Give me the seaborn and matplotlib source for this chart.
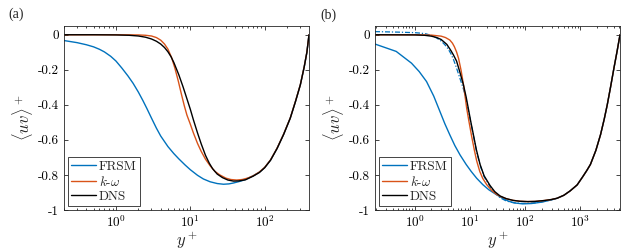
import numpy as np
import pandas as pd
import matplotlib
matplotlib.use("Agg")
import matplotlib.pyplot as plt
import matplotlib.ticker as mticker
import seaborn as sns

# ---------------- data ----------------
# Panel (a), Re_tau ~ 395
a_fr_y = [0.2, 0.3, 0.4, 0.5, 0.6, 0.7, 0.85, 1.0, 1.2, 1.45, 1.7, 2.0, 2.3, 2.6, 3.0, 3.5, 4.0, 5.0,
          6.0, 7.0, 8.5, 10, 12.5, 15, 18.5, 23, 28, 33, 38, 45, 52, 60, 70, 85, 100, 120, 147, 180,
          221, 260, 302, 340, 370, 395]
a_fr_v = [-0.033, -0.045, -0.057, -0.069, -0.083, -0.098, -0.123, -0.15, -0.19, -0.235, -0.277,
          -0.327, -0.375, -0.42, -0.475, -0.533, -0.578, -0.638, -0.678, -0.708, -0.743, -0.77,
          -0.802, -0.823, -0.839, -0.849, -0.853, -0.851, -0.846, -0.838, -0.83, -0.818, -0.805,
          -0.784, -0.758, -0.715, -0.648, -0.568, -0.476, -0.38, -0.286, -0.185, -0.1, 0.0]
a_kw_y = [0.2, 1.0, 2.0, 2.5, 3.0, 3.5, 4.0, 4.5, 5.0, 5.6, 6.2, 6.9, 7.6, 8.3, 9.0, 10, 11, 12.5,
          14, 16, 18.5, 21.5, 25, 30, 35, 42, 50, 60, 70, 85, 100, 120, 147, 180, 221, 260, 302,
          340, 370, 395]
a_kw_v = [0.0, 0.0, -0.001, -0.003, -0.007, -0.016, -0.031, -0.053, -0.082, -0.13, -0.19, -0.265,
          -0.34, -0.405, -0.458, -0.51, -0.56, -0.62, -0.665, -0.71, -0.748, -0.78, -0.80, -0.818,
          -0.826, -0.829, -0.826, -0.817, -0.805, -0.783, -0.757, -0.714, -0.647, -0.567, -0.475,
          -0.379, -0.285, -0.184, -0.099, 0.0]
a_dns_y = [0.2, 0.5, 1.0, 1.5, 2.0, 2.5, 3.0, 3.5, 4.0, 4.5, 5.0, 5.5, 6.0, 7.0, 8.0, 9.0, 10, 11,
           12.5, 14, 16, 18, 20, 23, 27, 32, 38, 45, 55, 70, 85, 100, 120, 147, 180, 221, 260,
           302, 340, 370, 395]
a_dns_v = [0.0, 0.0, -0.001, -0.003, -0.007, -0.014, -0.024, -0.037, -0.053, -0.073, -0.097,
           -0.125, -0.158, -0.228, -0.298, -0.365, -0.425, -0.485, -0.56, -0.622, -0.688, -0.733,
           -0.765, -0.795, -0.815, -0.829, -0.835, -0.834, -0.828, -0.807, -0.786, -0.759,
           -0.716, -0.649, -0.569, -0.476, -0.381, -0.286, -0.185, -0.1, 0.0]

# Panel (b), Re_tau ~ 5200
b_fr_y = [0.19, 0.46, 0.87, 1.2, 1.63, 2.2, 2.85, 3.5, 4.3, 5.3, 6.6, 8.5, 10.5, 13.2, 17, 22, 30.6,
          40, 50, 65, 90, 130, 200, 300, 377, 500, 650, 870, 1100, 1300, 1515, 1900, 2310, 2700,
          3055, 3500, 4040, 4600, 5200]
b_fr_v = [-0.053, -0.095, -0.162, -0.21, -0.267, -0.35, -0.438, -0.508, -0.571, -0.632, -0.686,
          -0.74, -0.78, -0.819, -0.855, -0.885, -0.914, -0.935, -0.95, -0.96, -0.965, -0.963,
          -0.955, -0.942, -0.933, -0.916, -0.891, -0.857, -0.81, -0.775, -0.74, -0.66, -0.57,
          -0.48, -0.40, -0.30, -0.19, -0.095, 0.0]
b_frd_y = [0.19, 0.5, 1.0, 1.3, 1.6, 2.0, 2.5, 3.0, 3.5, 4.0, 4.5, 5.0, 5.7, 6.5, 7.6, 8.5, 9.3,
           10.3, 11.5, 13, 15.2, 18, 23, 28, 35, 45, 60, 80, 110, 150, 220, 300, 377]
b_frd_v = [0.018, 0.015, 0.012, 0.009, 0.005, -0.004, -0.019, -0.036, -0.057, -0.08, -0.108,
           -0.14, -0.19, -0.245, -0.31, -0.37, -0.43, -0.50, -0.575, -0.66, -0.745, -0.81,
           -0.866, -0.9, -0.93, -0.948, -0.958, -0.962, -0.962, -0.959, -0.951, -0.941, -0.934]
b_kw_y = [0.19, 1.0, 2.0, 3.0, 3.6, 4.3, 4.8, 5.2, 5.7, 6.2, 6.9, 7.6, 8.2, 8.7, 9.5, 10.7, 12,
          13.2, 15, 17, 20, 25, 30, 35, 45, 60, 80, 110, 150, 220, 300, 377, 500, 650, 870, 1100,
          1300, 1515, 1900, 2310, 2700, 3055, 3500, 4040, 4600, 5200]
b_kw_v = [0.0, 0.0, -0.002, -0.008, -0.016, -0.03, -0.048, -0.068, -0.098, -0.135, -0.205,
          -0.285, -0.36, -0.42, -0.49, -0.58, -0.66, -0.72, -0.78, -0.82, -0.855, -0.89, -0.91,
          -0.922, -0.935, -0.945, -0.95, -0.952, -0.951, -0.946, -0.94, -0.933, -0.916, -0.891,
          -0.857, -0.81, -0.775, -0.74, -0.66, -0.57, -0.48, -0.40, -0.30, -0.19, -0.095, 0.0]
b_dns_y = [0.19, 1.0, 1.5, 2.0, 2.5, 3.0, 3.8, 4.5, 5.0, 5.7, 6.5, 7.6, 8.5, 9.3, 10.3, 11.5, 13,
           15.2, 18, 23, 28, 35, 45, 60, 80, 110, 150, 220, 300, 377, 500, 650, 870, 1100, 1300,
           1515, 1900, 2310, 2700, 3055, 3500, 4040, 4600, 5200]
b_dns_v = [0.0, -0.001, -0.003, -0.008, -0.016, -0.027, -0.055, -0.09, -0.115, -0.15, -0.21,
           -0.286, -0.355, -0.42, -0.495, -0.57, -0.655, -0.74, -0.805, -0.86, -0.895, -0.92,
           -0.935, -0.945, -0.95, -0.952, -0.951, -0.946, -0.94, -0.933, -0.916, -0.891, -0.857,
           -0.81, -0.775, -0.74, -0.66, -0.57, -0.48, -0.40, -0.30, -0.19, -0.095, 0.0]

y_ticks = [0, -0.2, -0.4, -0.6, -0.8, -1]
y_tick_labels = ["0", "-0.2", "-0.4", "-0.6", "-0.8", "-1"]
legend_labels = ["FRSM", r"$k$-$\omega$", "DNS"]

# ---------------- style ----------------
sns.set_style("ticks")
plt.rcParams["font.family"] = ["cmr10", "DejaVu Serif"]
plt.rcParams["mathtext.fontset"] = "cm"
plt.rcParams["axes.unicode_minus"] = False
plt.rcParams["axes.formatter.use_mathtext"] = True

BLUE = "#0072BD"
ORANGE = "#D95319"
BLACK = "#000000"

fig = plt.figure(figsize=(6.23, 2.5), dpi=100)
ax_a = fig.add_axes([64 / 623, 40 / 250, 245 / 623, 184 / 250])
ax_b = fig.add_axes([375 / 623, 40 / 250, 245 / 623, 184 / 250])


def draw(ax, fr, kw, dns, xlim, extra=None):
    lw = 1.0
    if extra is not None:
        sns.lineplot(x=extra[0], y=extra[1], ax=ax, color=BLUE, lw=0.9,
                     linestyle=(0, (4, 1.5, 1, 1.5)), sort=False, estimator=None, legend=False)
    sns.lineplot(x=fr[0], y=fr[1], ax=ax, color=BLUE, lw=lw, label=legend_labels[0],
                 sort=False, estimator=None)
    sns.lineplot(x=kw[0], y=kw[1], ax=ax, color=ORANGE, lw=lw, label=legend_labels[1],
                 sort=False, estimator=None)
    sns.lineplot(x=dns[0], y=dns[1], ax=ax, color=BLACK, lw=lw, label=legend_labels[2],
                 sort=False, estimator=None)
    ax.set_xscale("log")
    ax.set_xlim(*xlim)
    ax.set_ylim(-1, 0.05)
    ax.set_yticks(y_ticks)
    ax.set_yticklabels(y_tick_labels)
    ax.xaxis.set_major_locator(mticker.LogLocator(base=10, numticks=10))
    ax.xaxis.set_minor_locator(mticker.LogLocator(base=10, subs=np.arange(2, 10), numticks=20))
    ax.xaxis.set_minor_formatter(mticker.NullFormatter())
    ax.tick_params(which="both", direction="in", top=True, right=True, labelsize=9.5,
                   width=0.6, colors="#262626", labelcolor="black")
    ax.tick_params(which="major", length=3)
    ax.tick_params(which="minor", length=1.6)
    for s in ax.spines.values():
        s.set_linewidth(0.6)
        s.set_color("#262626")
    ax.set_xlabel(r"$y^+$", fontsize=12, labelpad=0)
    ax.set_ylabel(r"$\langle uv\rangle^+$", fontsize=12, labelpad=2)
    leg = ax.legend(loc="lower left", fontsize=9.5, frameon=True, fancybox=False,
                    edgecolor="#262626", framealpha=1, borderaxespad=0.3,
                    handlelength=1.9, handletextpad=0.2, borderpad=0.25, labelspacing=0.15)
    leg.get_frame().set_linewidth(0.6)


draw(ax_a, (a_fr_y, a_fr_v), (a_kw_y, a_kw_v), (a_dns_y, a_dns_v), (0.2, 395))
draw(ax_b, (b_fr_y, b_fr_v), (b_kw_y, b_kw_v), (b_dns_y, b_dns_v), (0.19, 5200),
     extra=(b_frd_y, b_frd_v))

fig.text(8 / 623, 1 - 14 / 250, "(a)", fontsize=10, family="Liberation Serif", va="center")
fig.text(320 / 623, 1 - 15 / 250, "(b)", fontsize=10, family="Liberation Serif", va="center")

fig.savefig("out.png", dpi=100)
